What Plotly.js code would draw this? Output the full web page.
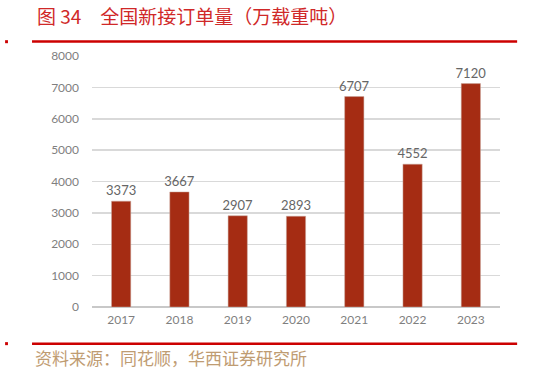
<!DOCTYPE html>
<html><head><meta charset="utf-8">
<script src="https://cdn.plot.ly/plotly-3.0.1.min.js"></script>
<style>html,body{margin:0;padding:0;background:#fff;}#chart{width:537px;height:370px;}</style>
</head><body><div id="chart"></div>
<script>
const years = ['2017','2018','2019','2020','2021','2022','2023'];
const orders = [3373, 3667, 2907, 2893, 6707, 4552, 7120];
const yTicks = [0,1000,2000,3000,4000,5000,6000,7000,8000];

const trace = {
  type: 'bar', x: years, y: orders,
  marker: {color: '#A52C13', line: {color: '#C8A89E', width: 0.5}},
  width: 0.33,
  text: orders.map(String), textposition: 'outside', cliponaxis: false, constraintext: 'none',
  textfont: {family: 'Lato, "Noto Sans", sans-serif', size: 13, color: '#666666'},
  hoverinfo: 'none'
};
const layout = {
  width: 537, height: 370,
  margin: {l: 92, r: 37, t: 56, b: 63},
  paper_bgcolor: '#fff', plot_bgcolor: '#fff',
  showlegend: false, bargap: 0.67,
  xaxis: {type: 'category', tickfont: {family: 'Lato, "Noto Sans", sans-serif', size: 12, color: '#7F7F7F'},
    showgrid: false, showline: false, ticks: '', ticklabelstandoff: 4},
  yaxis: {range: [0, 8000], tickvals: yTicks, tickfont: {family: 'Lato, "Noto Sans", sans-serif', size: 12, color: '#7F7F7F'},
    gridcolor: '#D9D9D9', gridwidth: 1.5, zeroline: true, zerolinecolor: '#C8C8C8', zerolinewidth: 1.5,
    showline: false, ticks: '', ticklabelstandoff: 12},
  annotations: [
    {xref: 'paper', yref: 'paper', xanchor: 'left', yanchor: 'middle', x: -0.14, y: 1.163,
      text: '图 34\u3000全国新接订单量（万载重吨）', showarrow: false,
      font: {family: '"Noto Sans CJK SC", sans-serif', size: 19, color: '#D02828'}},
    {xref: 'paper', yref: 'paper', xanchor: 'left', yanchor: 'middle', x: -0.145, y: -0.2,
      text: '资料来源：同花顺，华西证券研究所', showarrow: false,
      font: {family: '"Noto Sans CJK SC", sans-serif', size: 17, color: '#BF9C72'}}
  ],
  shapes: [
    {type: 'line', xref: 'paper', yref: 'paper', x0: -0.147, x1: 1.042, y0: 1.058, y1: 1.058, line: {color: '#CC0000', width: 2.5}},
    {type: 'rect', xref: 'paper', yref: 'paper', x0: -0.213, x1: -0.206, y0: 1.051, y1: 1.063, fillcolor: '#CC0000', line: {width: 0}},
    {type: 'line', xref: 'paper', yref: 'paper', x0: -0.147, x1: 1.042, y0: -0.146, y1: -0.146, line: {color: '#CC0000', width: 2.5}},
    {type: 'rect', xref: 'paper', yref: 'paper', x0: -0.213, x1: -0.206, y0: -0.152, y1: -0.140, fillcolor: '#CC0000', line: {width: 0}}
  ]
};
Plotly.newPlot('chart', [trace], layout, {displayModeBar: false, staticPlot: true});
</script></body></html>
